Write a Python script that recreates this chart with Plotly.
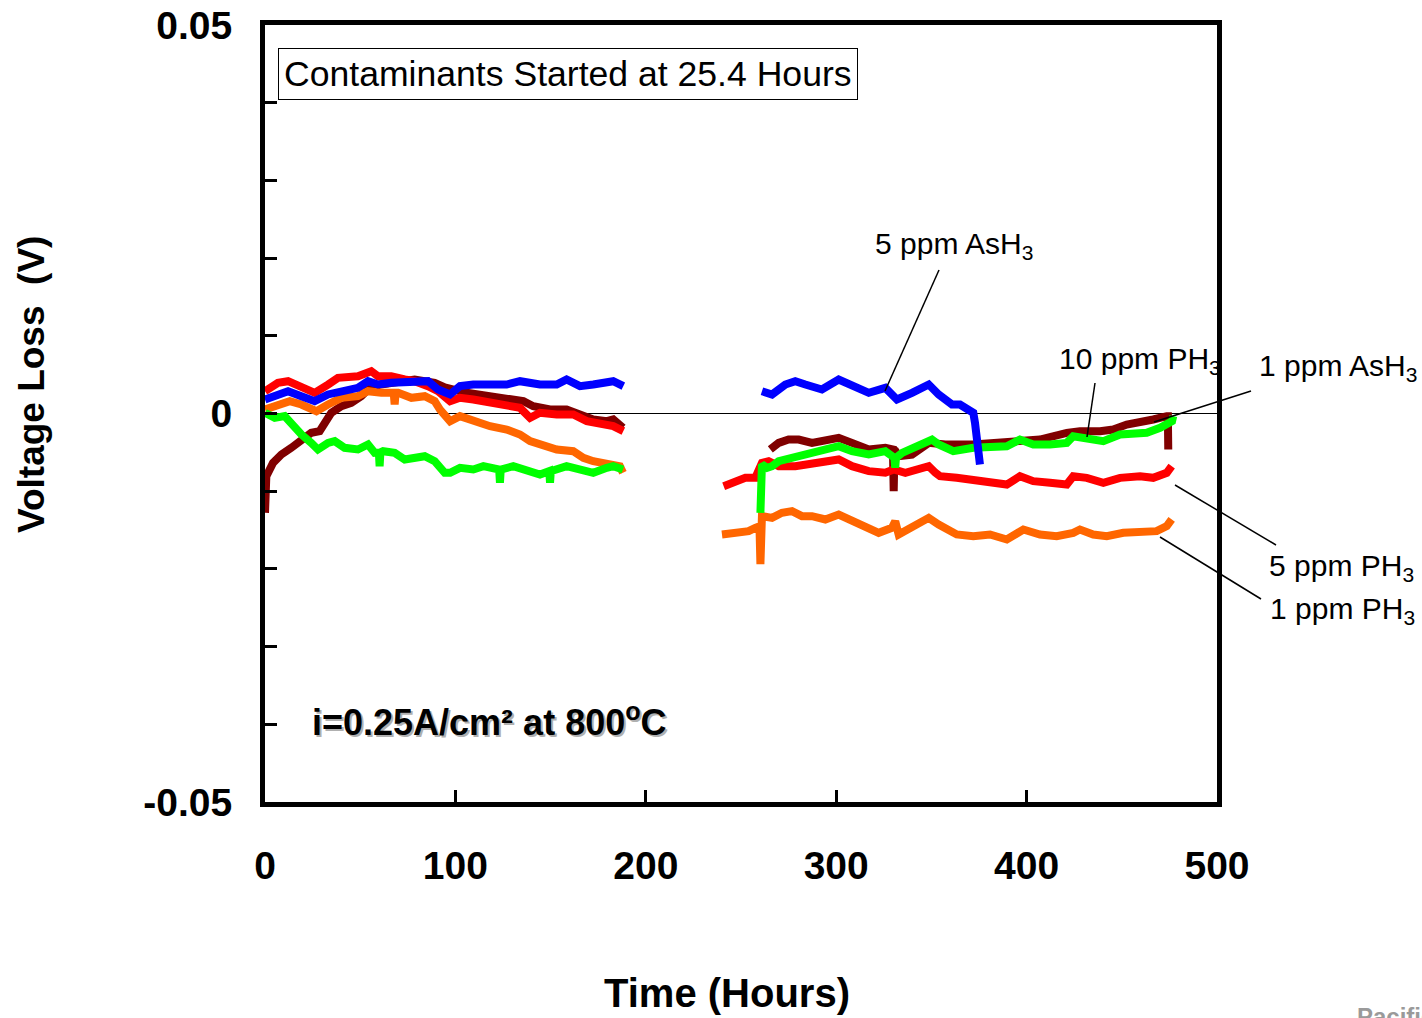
import plotly.graph_objects as go

# ---------------- data (hours, volts) ----------------
# 5 ppm AsH3 (blue)
blue_t_a = [0, 6.8, 12.1, 19.1, 26.1, 33.1, 40.1, 48.8, 54.1, 59.3, 66.3, 73.4, 80.4, 85.6, 90.9, 94.4,
            97.2, 102.4, 109.4, 126.9, 133.9, 144.4, 153.2, 158.4, 165.4, 172.4, 179.5, 182.9, 188.2]
blue_v_a = [0.0018, 0.00245, 0.00287, 0.00223, 0.00159, 0.00245, 0.00287, 0.0033, 0.00416, 0.00373, 0.00395, 0.00395, 0.00395, 0.00416, 0.00309, 0.00266,
            0.00245, 0.00352, 0.00373, 0.00373, 0.00416, 0.00373, 0.00373, 0.00438, 0.00352, 0.00373, 0.00395, 0.00416, 0.00352]
blue_t_b = [261, 266.3, 273.3, 278.5, 283.8, 292.5, 301.3, 308.3, 317.1, 325.8, 331.9, 339.8, 348.6, 353.8, 360.8, 365, 372, 372.9, 373.8, 375.5]
blue_v_b = [0.00287, 0.00245, 0.00373, 0.00416, 0.00373, 0.00309, 0.00438, 0.00352, 0.00266, 0.0033, 0.0018, 0.00266, 0.00373, 0.00245, 0.00116, 0.00116, 0.00009, -0.0012, -0.00377, -0.00656]

# 5 ppm PH3 (red)
red_t_a = [0, 6.8, 12.1, 17.3, 26.1, 33.1, 38.3, 48.8, 55.8, 59.3, 66.3, 73.4, 78.6, 85.6, 90.9,
           97.2, 102.4, 109.4, 118.2, 126.9, 133.9, 139.2, 144.4, 153.2, 161.9, 169, 175.9, 182.9, 188.2]
red_v_a = [0.00287, 0.00395, 0.00416, 0.00352, 0.00266, 0.00373, 0.00459, 0.0048, 0.00545, 0.0048, 0.0048, 0.00438, 0.00416, 0.00352, 0.00287,
           0.00159, 0.00202, 0.0018, 0.00137, 0.00094, 0.00073, -0.00056, 0.00009, -0.00013, -0.00013, -0.00099, -0.0012, -0.00163, -0.00227]
red_t_b = [240.9, 247, 252.3, 257.5, 261, 264.5, 269.8, 278.5, 287.3, 296.1, 301.3, 308.3, 317.1, 325.8, 330.2, 336.3, 343.3, 348.6, 352.1,
           354.5, 363.3, 372, 380.8, 389.6, 396.5, 403.5, 412.3, 421.1, 424.5, 431.6, 440.3, 449.1, 459.6, 466.5, 473.6, 476.2]
red_v_b = [-0.00935, -0.00871, -0.00828, -0.00828, -0.00635, -0.00614, -0.00678, -0.00678, -0.00635, -0.00614, -0.00592, -0.00678, -0.00742, -0.00763, -0.00721, -0.00763, -0.00721, -0.00678, -0.00763,
           -0.00807, -0.00828, -0.00849, -0.00871, -0.00914, -0.00807, -0.00871, -0.00892, -0.00914, -0.00807, -0.00828, -0.00892, -0.00828, -0.00807, -0.00828, -0.00763, -0.00678]

# 1 ppm PH3 (orange)
orange_t_a = [0, 6.8, 13, 19.1, 27, 33.1, 40.1, 48.8, 54.1, 61.1, 66.3, 67.6, 68.1, 68.6, 69.9, 76.9, 83.9, 89.1,
              91.9, 97.2, 102.4, 109.4, 118.2, 126.9, 133.9, 139.2, 144.4, 153.2, 161.9, 167.2, 172.4, 179.5, 186.4, 188]
orange_v_a = [0.00051, 0.00094, 0.00159, 0.00116, 0.0003, 0.00116, 0.00202, 0.00223, 0.00287, 0.00266, 0.00266, 0.00266, 0.00116, 0.00266, 0.00266, 0.00202, 0.00223, 0.00159,
              0.00051, -0.00099, -0.00034, -0.00099, -0.00163, -0.00206, -0.0027, -0.00356, -0.00399, -0.00463, -0.00485, -0.0057, -0.00614, -0.00635, -0.00678, -0.00763]
orange_t_b = [240, 247, 254, 257.5, 259.7, 260.2, 260.7, 261, 266.3, 271.5, 276.8, 282, 287.3, 294.3, 301.3, 308.3, 315.3, 322.3, 329.3, 331, 332.8,
              339.8, 348.6, 353.8, 363.3, 372, 380.8, 389.6, 398.3, 407, 415.8, 424.5, 428, 435, 442.1, 450.8, 459.6, 468.3, 473.6, 476.2]
orange_v_b = [-0.01557, -0.01536, -0.01514, -0.01471, -0.0145, -0.0194, -0.0135, -0.01321, -0.01343, -0.01278, -0.01257, -0.01321, -0.01321, -0.01364, -0.013, -0.01386, -0.0145, -0.01536, -0.01471, -0.01386, -0.01557,
              -0.01471, -0.01343, -0.01428, -0.01557, -0.01579, -0.01557, -0.01622, -0.01493, -0.01557, -0.01579, -0.01536, -0.01493, -0.01557, -0.01579, -0.01536, -0.01536, -0.01514, -0.0145, -0.01364]

# 1 ppm AsH3 (dark red)
dred_t_a = [0, 0.7, 4.2, 8.6, 13.8, 19.1, 24.3, 28.7, 31.3, 34.8, 40.1, 45.3, 50.6, 54.1, 60, 71.6, 78.6, 89.1, 94.4,
            105.9, 118.2, 126.9, 135.7, 140.9, 149.7, 158.4, 165.4, 172.4, 179.5, 182.9, 188]
dred_v_a = [-0.01278, -0.00807, -0.00635, -0.00528, -0.00442, -0.00335, -0.00249, -0.00227, -0.0012, 0.00009, 0.00094, 0.00137, 0.00223, 0.00309, 0.0037, 0.00416, 0.00438, 0.00395, 0.00335,
            0.00266, 0.00223, 0.0018, 0.00159, 0.00094, 0.00051, 0.00051, -0.00013, -0.00077, -0.00099, -0.00077, -0.00184]
dred_t_b = [265.4, 269.8, 275, 280.3, 287.3, 294.3, 301.3, 308.3, 317.1, 325.8, 329.8, 330.2, 330.6, 332.8, 339.8, 348.6, 357.3,
            372, 389.6, 407, 421.1, 428, 438.6, 445.5, 452.6, 459.6, 466.5, 473.6, 474.2, 474.4]
dred_v_b = [-0.00463, -0.00378, -0.00335, -0.00335, -0.00378, -0.00335, -0.00313, -0.00378, -0.00463, -0.00442, -0.00463, -0.0100, -0.00463, -0.00549, -0.00528, -0.00378, -0.00399,
            -0.00399, -0.00378, -0.00335, -0.00249, -0.00227, -0.00227, -0.00206, -0.00142, -0.0012, -0.00077, -0.00034, -0.00034, -0.00463]

# 10 ppm PH3 (green)
green_t_a = [0, 5.1, 10.3, 13.8, 19.1, 24.3, 27.8, 33.1, 36.6, 41.8, 48.8, 54.1, 57.6, 59.8, 60.2, 60.6, 62, 68.1, 73.4, 78.6, 83.9, 89.1, 91.9, 94.4,
             97.2, 102.4, 109.4, 114.7, 123, 123.4, 123.8, 130.4, 137.5, 144.4, 149.3, 149.7, 150.1, 158.4, 165.4, 172.4, 179.5, 182.9, 188]
green_v_a = [0.00009, -0.00056, -0.00034, -0.00142, -0.0027, -0.00378, -0.00463, -0.00378, -0.00356, -0.00442, -0.00463, -0.00399, -0.00506, -0.005, -0.00678, -0.005, -0.00485, -0.00506, -0.00592, -0.0057, -0.0055, -0.00614, -0.00678, -0.00763,
             -0.00763, -0.00699, -0.00721, -0.00678, -0.00721, -0.00892, -0.00721, -0.00678, -0.00721, -0.00785, -0.00742, -0.00892, -0.00742, -0.00678, -0.00721, -0.00763, -0.00699, -0.00678, -0.00721]
green_t_b = [260.2, 260.3, 261, 263.7, 266.3, 269.8, 276.8, 282, 287.3, 292.5, 301.3, 308.3, 317.1, 325.8, 330.6, 331, 331.4, 334.6, 339.8, 346.3, 350.3, 353.8,
             361.5, 372, 380.8, 389.6, 396.5, 403.5, 412.3, 421.1, 424.5, 431.6, 440.3, 449.1, 456, 463.1, 470.1, 476.4, 477]
green_v_b = [-0.01278, -0.00721, -0.00656, -0.00699, -0.00678, -0.00614, -0.0057, -0.00528, -0.00506, -0.00485, -0.00421, -0.00485, -0.00528, -0.00485, -0.0057, -0.00699, -0.0057, -0.00506, -0.00442, -0.00378, -0.00335, -0.00399,
             -0.00485, -0.00442, -0.00442, -0.00421, -0.00335, -0.00399, -0.00399, -0.00378, -0.00292, -0.00313, -0.00356, -0.0027, -0.0027, -0.00249, -0.00184, -0.00099, -0.00034]

x_ticks = [0, 100, 200, 300, 400, 500]
y_ticks = [-0.05, -0.04, -0.03, -0.02, -0.01, 0, 0.01, 0.02, 0.03, 0.04, 0.05]
y_ticktext = ["-0.05", "", "", "", "", "0", "", "", "", "", "0.05"]

series = [
    ("1 ppm AsH3", "#800000", dred_t_a, dred_v_a, dred_t_b, dred_v_b),
    ("1 ppm PH3", "#FF6600", orange_t_a, orange_v_a, orange_t_b, orange_v_b),
    ("5 ppm PH3", "#FF0000", red_t_a, red_v_a, red_t_b, red_v_b),
    ("10 ppm PH3", "#00FF00", green_t_a, green_v_a, green_t_b, green_v_b),
    ("5 ppm AsH3", "#0000FF", blue_t_a, blue_v_a, blue_t_b, blue_v_b),
]

# ---------------- layout geometry (pixels) ----------------
W, H = 1422, 1018
L, R, T, B = 265, 1217, 25, 802
PW, PH = R - L, B - T


def px(xp):
    return (xp - L) / PW


def py(yp):
    return (B - yp) / PH


FONT = "Arial, Liberation Sans, sans-serif"

fig = go.Figure()
for name, color, ta, va, tb, vb in series:
    fig.add_trace(go.Scatter(
        x=ta + [None] + tb, y=va + [None] + vb, mode="lines", name=name,
        line=dict(color=color, width=8), connectgaps=False, showlegend=False,
    ))

axis_common = dict(
    showline=True, linecolor="black", linewidth=5, mirror=True, automargin=False,
    showgrid=False, ticks="inside", ticklen=12, tickwidth=3, tickcolor="black",
    tickfont=dict(family=FONT, size=39, color="black", weight="bold"),
)

fig.update_xaxes(range=[0, 500], tickvals=x_ticks, zeroline=False,
                 ticklabelstandoff=25, **axis_common)
fig.update_yaxes(range=[-0.05, 0.05], tickvals=y_ticks, ticktext=y_ticktext,
                 zeroline=True, zerolinecolor="black", zerolinewidth=1,
                 ticklabelstandoff=20, **axis_common)

ann = []
# axis titles
ann.append(dict(text="Time (Hours)", x=px(727), y=py(993), xref="paper", yref="paper",
                showarrow=False, xanchor="center", yanchor="middle",
                font=dict(family=FONT, size=40, color="black", weight="bold")))
ann.append(dict(text="Voltage Loss\u00a0 (V)", x=px(32), y=py(385), xref="paper", yref="paper",
                showarrow=False, xanchor="center", yanchor="middle", textangle=-90,
                font=dict(family=FONT, size=37, color="black", weight="bold")))
# boxed note
ann.append(dict(text="Contaminants Started at 25.4 Hours", x=px(278), y=py(48),
                xref="paper", yref="paper", showarrow=False, xanchor="left", yanchor="top",
                bordercolor="black", borderwidth=1, borderpad=5, bgcolor="white",
                font=dict(family=FONT, size=35.6, color="black")))
# condition text with shadow
cond = "i=0.25A/cm² at 800<sup>o</sup>C"
ann.append(dict(text=cond, x=px(310), y=py(720), xref="paper", yref="paper",
                showarrow=False, xanchor="left", yanchor="middle", xshift=2, yshift=-2,
                font=dict(family=FONT, size=36, color="#b0b0b0", weight="bold")))
ann.append(dict(text=cond, x=px(310), y=py(720), xref="paper", yref="paper",
                showarrow=False, xanchor="left", yanchor="middle",
                font=dict(family=FONT, size=36, color="black", weight="bold")))

# series labels: (text, x pixel, y pixel, anchor)
labels = [
    ("5 ppm AsH<sub>3</sub>", 873, 245, "left"),
    ("10 ppm PH<sub>3</sub>", 1057, 360, "left"),
    ("1 ppm AsH<sub>3</sub>", 1419, 367, "right"),
    ("5 ppm PH<sub>3</sub>", 1416, 567, "right"),
    ("1 ppm PH<sub>3</sub>", 1417, 610, "right"),
]
for txt, lx, ly, anc in labels:
    ann.append(dict(text=txt, x=px(lx), y=py(ly), xref="paper", yref="paper",
                    showarrow=False, xanchor=anc, yanchor="middle",
                    font=dict(family=FONT, size=30, color="black")))

# watermark fragment at bottom right (cut off by the page edge, as in the source)
ann.append(dict(text="Pacific", x=px(1355), y=py(1016), xref="paper", yref="paper",
                showarrow=False, xanchor="left", yanchor="middle",
                font=dict(family=FONT, size=24, color="#9a9a9a", weight="bold")))

leaders = [
    (885, 391, 939, 270),
    (1087, 437, 1095, 383),
    (1154, 422, 1251, 391),
    (1175, 485, 1276, 545),
    (1160, 537, 1261, 599),
]
shapes = []
for x0, y0, x1, y1 in leaders:
    shapes.append(dict(type="line", xref="paper", yref="paper",
                       x0=px(x0), y0=py(y0), x1=px(x1), y1=py(y1),
                       line=dict(color="black", width=1.5)))

fig.update_layout(
    width=W, height=H,
    margin=dict(l=L, r=W - R, t=T, b=H - B, pad=0, autoexpand=False),
    paper_bgcolor="white", plot_bgcolor="white",
    annotations=ann, shapes=shapes, showlegend=False,
    font=dict(family=FONT, color="black"),
)

fig.write_html("out.html")
